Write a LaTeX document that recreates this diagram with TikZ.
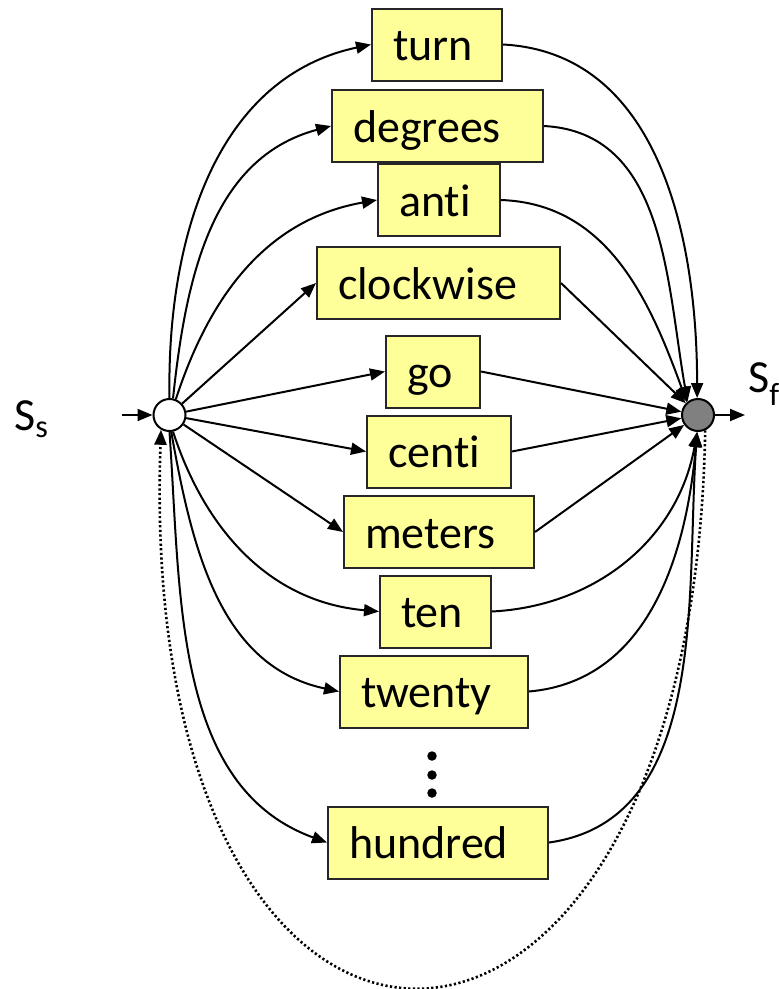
\documentclass[tikz,border=0pt]{standalone}
\usepackage{fontspec}
\setmainfont{Carlito}[Ligatures={NoCommon}]
\usetikzlibrary{arrows.meta}
\definecolor{boxyellow}{RGB}{255,255,153}
\definecolor{endgray}{RGB}{128,128,128}
\begin{document}
\begin{tikzpicture}[x=1pt,y=1pt,
  wbox/.style={draw=black!85, fill=boxyellow, line width=2pt, minimum height=72pt, inner xsep=21pt, inner ysep=0pt, align=left, text height=38pt, text depth=6pt, anchor=west, font=\fontsize{46}{55}\selectfont},
  stnode/.style={circle, draw, line width=2pt, minimum size=32pt, inner sep=0pt},
  arr/.style={line width=2pt, -{Triangle[length=15pt,width=12pt]}},
  loopdots/.style={line width=2.6pt, dash pattern=on 2.2pt off 2.4pt, -{Triangle[length=15pt,width=12pt]}},
  ellipsisdot/.style={circle, fill=black, inner sep=0pt, minimum size=9.5pt},
  lbl/.style={font=\fontsize{46}{55}\selectfont, anchor=base west, inner sep=0pt}
]
\useasboundingbox (0,0) rectangle (779,-989);

\node[wbox, text width=88pt]  (turn)      at (371,-44.5) {turn};
\node[wbox, text width=169pt] (degrees)   at (331,-126)  {degrees};
\node[wbox, text width=80pt]  (anti)      at (377,-200)  {anti};
\node[wbox, text width=201pt] (clockwise) at (316,-283)  {clockwise};
\node[wbox, text width=52pt]  (go)        at (385,-371.5){go};
\node[wbox, text width=102pt] (centi)     at (366,-451.5){centi};
\node[wbox, text width=148pt] (meters)    at (343,-532)  {meters};
\node[wbox, text width=69pt]  (ten)       at (379,-611.5){ten};
\node[wbox, text width=146pt] (twenty)    at (339,-691.5){twenty};
\node[wbox, text width=178pt] (hundred)   at (327,-842.5){hundred};

\node[ellipsisdot] (d1) at (432,-756) {};
\node[ellipsisdot] (d2) at (432,-775) {};
\node[ellipsisdot] (d3) at (432,-793) {};

\node[stnode, fill=white]   (start) at (169.5,-415) {};
\node[stnode, fill=endgray] (end)   at (698,-415)   {};

\node[lbl] (ss) at (14,-430) {S\textsubscript{s}};
\node[lbl] (sf) at (748,-392) {S\textsubscript{f}};

\coordinate (inS) at (122,-415);
\coordinate (outF) at (745,-415);
\draw[arr] (inS) -- (start);
\draw[arr] (end) -- (outF);

% start -> words
\draw[arr] (start.north) to[out=91, in=192] (turn.west);
\draw[arr] (start.78) to[out=84, in=195] (degrees.west);
\draw[arr] (start.68) to[out=72, in=190] (anti.west);
\draw[arr] (start) -- (clockwise.west);
\draw[arr] (start) -- (go.west);
\draw[arr] (start) -- (centi.west);
\draw[arr] (start) -- (meters.west);
\draw[arr] (start.-78) to[out=-72, in=175] (ten.west);
\draw[arr] (start.-84) to[out=-80, in=168] (twenty.west);
\draw[arr] (start.south) to[out=-86, in=160, looseness=0.95] (hundred.west);

% words -> end
\draw[arr] (turn.east) to[out=-3, in=90] (end.93);
\draw[arr] (degrees.east) to[out=-3, in=100] (end.128);
\draw[arr] (anti.east) to[out=-2, in=110] (end.131);
\draw[arr] (clockwise.east) -- (end);
\draw[arr] (go.east) -- (end);
\draw[arr] (centi.east) -- (end);
\draw[arr] (meters.east) -- (end);
\draw[arr] (ten.east) to[out=3, in=-100] (end.-93);
\draw[arr] (twenty.east) to[out=5, in=-95] (end.-93);
\draw[arr] (hundred.east) to[out=8, in=-94, looseness=0.95] (end.-93);

% dotted loop back
\draw[loopdots] (end.-65) to[out=-91, in=-92, looseness=3.5] (start.-120);
\end{tikzpicture}
\end{document}
